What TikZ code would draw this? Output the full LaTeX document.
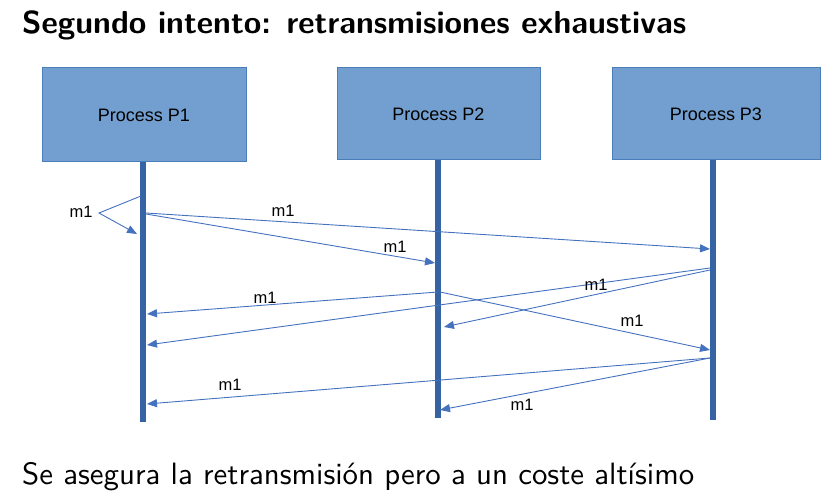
\documentclass[tikz,border=0pt]{standalone}
\usepackage{fontspec}
\newfontfamily\arialfont{Liberation Sans}
\usetikzlibrary{arrows.meta}
\definecolor{boxfill}{RGB}{114,159,207}
\definecolor{boxline}{RGB}{74,126,187}
\definecolor{life}{RGB}{54,99,164}
\definecolor{msg}{RGB}{68,114,190}
\begin{document}
\begin{tikzpicture}[x=1pt,y=-1pt,
  proc/.style={draw=boxline,fill=boxfill,line width=1pt,inner sep=0pt,font=\arialfont\fontsize{18}{20}\selectfont},
  lifeline/.style={draw=life,line width=6pt},
  msgline/.style={draw=msg,line width=0.9pt,-{Triangle[length=10pt,width=8pt]}},
  lbl/.style={font=\arialfont\fontsize{16.5}{18}\selectfont,inner sep=0pt}]
\useasboundingbox (0,0) rectangle (836,502);
% title
\node[anchor=base west,inner sep=0pt] (title) at (22,34) {\resizebox{664pt}{!}{\sffamily\bfseries Segundo intento: retransmisiones exhaustivas}};
\node[anchor=base west,inner sep=0pt] (foot) at (22,485) {\resizebox{672pt}{!}{\sffamily Se asegura la retransmisión pero a un coste altísimo}};
% process boxes
\node[proc,minimum width=204pt,minimum height=94pt] (p1) at (144,115) {Process P1};
\node[proc,minimum width=203pt,minimum height=92pt] (p2) at (438.5,114) {Process P2};
\node[proc,minimum width=208pt,minimum height=92pt] (p3) at (716,114) {Process P3};
% lifelines
\coordinate (l1b) at (143,422);
\coordinate (l2b) at (438,418);
\coordinate (l3b) at (713,420);
\draw[lifeline] (p1.south -| l1b) -- (l1b);
\draw[lifeline] (p2.south -| l2b) -- (l2b);
\draw[lifeline] (p3.south -| l3b) -- (l3b);
% message end points
\coordinate (s0) at (141,196);
\coordinate (sv) at (99,213);
\coordinate (s1) at (137,234);
\coordinate (a1s) at (146,213); \coordinate (a1e) at (710,249);
\coordinate (a2s) at (146,214); \coordinate (a2e) at (435,263);
\coordinate (a3s) at (438,292); \coordinate (a3e) at (147,314);
\coordinate (a4s) at (440,292); \coordinate (a4e) at (710,350);
\coordinate (a5s) at (710,268); \coordinate (a5e) at (147,345);
\coordinate (a6s) at (710,270); \coordinate (a6e) at (444,327);
\coordinate (a7s) at (710,358); \coordinate (a7e) at (147,404);
\coordinate (a8s) at (710,358); \coordinate (a8e) at (440,410);
% messages
\draw[msgline] (s0) -- (sv) -- (s1);
\draw[msgline] (a1s) -- (a1e);
\draw[msgline] (a2s) -- (a2e);
\draw[msgline] (a3s) -- (a3e);
\draw[msgline] (a4s) -- (a4e);
\draw[msgline] (a5s) -- (a5e);
\draw[msgline] (a6s) -- (a6e);
\draw[msgline] (a7s) -- (a7e);
\draw[msgline] (a8s) -- (a8e);
% labels
\node[lbl] (m0) at (81,212) {m1};
\node[lbl] (m1) at (283,211) {m1};
\node[lbl] (m2) at (395,247) {m1};
\node[lbl] (m3) at (265,298) {m1};
\node[lbl] (m4) at (596,285) {m1};
\node[lbl] (m5) at (632,321) {m1};
\node[lbl] (m6) at (230,385) {m1};
\node[lbl] (m7) at (522,405) {m1};
\end{tikzpicture}
\end{document}
